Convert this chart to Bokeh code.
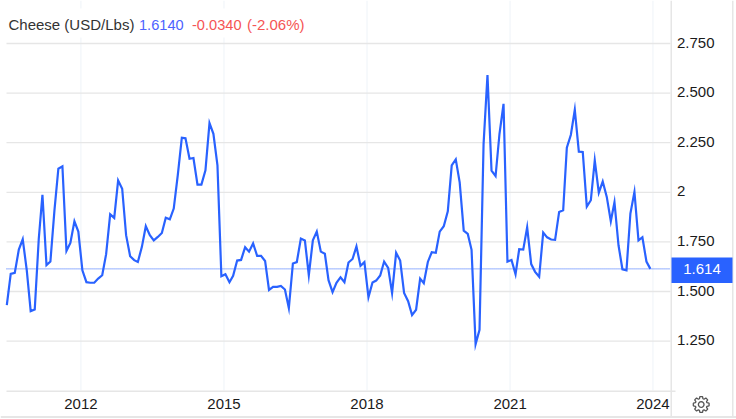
import math
import pandas as pd
from bokeh.plotting import figure
from bokeh.embed import file_html
from bokeh.resources import INLINE
from bokeh.models import (Range1d, FixedTicker, LinearAxis, DatetimeAxis, DatetimeTickFormatter,
                          Label, BoxAnnotation, PolyAnnotation, ColumnDataSource)

TITLE_NAME = "Cheese (USD/Lbs)"
TITLE_PRICE = "1.6140"
TITLE_CHANGE = "-0.0340"
TITLE_PCT = "(-2.06%)"
LAST = 1.614
LAST_LABEL = "1.614"

values_2010_2014 = [
    1.431, 1.589, 1.594, 1.711, 1.763, 1.607, 1.401, 1.409, 1.767, 1.987,
    1.633, 1.651, 1.909, 2.119, 2.131, 1.705, 1.745, 1.854, 1.802, 1.607,
    1.547, 1.544, 1.544, 1.565, 1.582, 1.688, 1.889, 1.871, 2.060, 2.018,
    1.784, 1.678, 1.658, 1.649, 1.725, 1.829, 1.784, 1.758, 1.775, 1.795,
    1.872, 1.864, 1.918, 2.086, 2.275, 2.272, 2.169, 2.173, 2.039, 2.039,
    2.111, 2.349, 2.295, 2.136,
]
values_2015_2019 = [
    1.577, 1.587, 1.547, 1.579, 1.656, 1.659, 1.723, 1.701, 1.742, 1.680,
    1.680, 1.654, 1.508, 1.523, 1.523, 1.528, 1.510, 1.416, 1.641, 1.648,
    1.767, 1.757, 1.582, 1.758, 1.802, 1.701, 1.690, 1.557, 1.497, 1.544,
    1.572, 1.547, 1.646, 1.664, 1.727, 1.629, 1.648, 1.471, 1.545, 1.555,
    1.581, 1.651, 1.619, 1.492, 1.695, 1.656, 1.493, 1.451, 1.381, 1.408,
    1.565, 1.542, 1.649, 1.698, 1.695, 1.802, 1.829, 1.904,
]
values_2020_2023 = [
    2.136, 2.166, 2.050, 1.807, 1.790, 1.710, 1.235, 1.307, 2.243, 2.591,
    2.109, 2.082, 2.295, 2.446, 1.651, 1.659, 1.587, 1.713, 1.711, 1.824,
    1.638, 1.599, 1.574, 1.797, 1.773, 1.762, 1.760, 1.901, 1.909, 2.225,
    2.290, 2.416, 2.205, 2.203, 1.928, 1.960, 2.161, 1.998, 2.054, 1.977,
    1.854, 1.950, 1.733, 1.612, 1.607, 1.893, 2.002, 1.758, 1.773, 1.651,
    1.614,
]
values = values_2010_2014 + values_2015_2019 + values_2020_2023
dates = pd.date_range("2010-06-01", periods=len(values), freq="MS") + pd.Timedelta(days=11)

y_ticks = [1.25, 1.5, 1.75, 2, 2.25, 2.5, 2.75]
y_labels = ["1.250", "1.500", "1.750", "2", "2.250", "2.500", "2.750"]
x_years = [2012, 2015, 2018, 2021, 2024]

BLUE = "#2962ff"
GRID_H = "#e6e6e6"
GRID_V = "#eef3f8"
FONT = "Liberation Sans"
TICK_TEXT = "#1a1a1a"


def ms(year_float):
    y = int(year_float)
    a = pd.Timestamp(year=y, month=1, day=1)
    b = pd.Timestamp(year=y + 1, month=1, day=1)
    return (a + (b - a) * (year_float - y)).timestamp() * 1000


PX_YEAR = 47.67


def xdata(px):
    return ms(2012 + (px - 80.5) / PX_YEAR)


def ydata(py):
    return 2.75 - (py - 43.0) / 198.4


p = figure(width=736, height=419, output_backend="svg", toolbar_location=None,
           x_axis_type=None, y_axis_type=None,
           x_range=Range1d(xdata(0), xdata(736)),
           y_range=Range1d(ydata(419), ydata(0)),
           min_border_left=0, min_border_right=0, min_border_top=0, min_border_bottom=0,
           background_fill_color="white", border_fill_color="white")
p.outline_line_color = None
p.xgrid.visible = False
p.ygrid.visible = False

year_ticks = [ms(y) for y in x_years]
xaxis = DatetimeAxis(ticker=FixedTicker(ticks=year_ticks), fixed_location=ydata(390.5),
                     formatter=DatetimeTickFormatter(years="%Y", months="%Y", days="%Y", hours="%Y"))
xaxis.axis_line_color = None
xaxis.major_tick_line_color = None
xaxis.minor_tick_line_color = None
xaxis.major_tick_out = 0
xaxis.major_label_standoff = 8
xaxis.major_label_text_font = FONT
xaxis.major_label_text_font_size = "15px"
xaxis.major_label_text_color = TICK_TEXT
p.add_layout(xaxis, "below")

# the reference's value labels sit 1px above their gridlines
label_ticks = [round(v + 1 / 198.4, 4) for v in y_ticks]
yaxis = LinearAxis(ticker=FixedTicker(ticks=label_ticks), fixed_location=xdata(670.5),
                   major_label_overrides=dict(zip(label_ticks, y_labels)))
yaxis.axis_line_color = None
yaxis.major_tick_line_color = None
yaxis.minor_tick_line_color = None
yaxis.major_tick_out = 0
yaxis.major_label_standoff = 6
yaxis.major_label_text_font = FONT
yaxis.major_label_text_font_size = "15px"
yaxis.major_label_text_color = TICK_TEXT
p.add_layout(yaxis, "right")


def rect(l, r, t, b, color, level="underlay"):
    p.add_layout(BoxAnnotation(left=l, right=r, top=t, bottom=b,
                               left_units="canvas", right_units="canvas",
                               top_units="canvas", bottom_units="canvas",
                               fill_color=color, fill_alpha=1, line_color=None, level=level))


p.segment(x0=year_ticks, x1=year_ticks, y0=ydata(390), y1=ydata(0),
          line_color=GRID_V, line_width=1, level="underlay")
p.segment(x0=xdata(6), x1=xdata(670), y0=y_ticks, y1=y_ticks,
          line_color=GRID_H, line_width=1.3, level="underlay")

rect(6, 305, 8, 37, "white")
rect(6, 675, 390, 391.5, GRID_H)
rect(670, 671.5, 0, 416, GRID_H)
rect(731.5, 733, 0, 416, GRID_H)
rect(0, 736, 415.5, 417.5, GRID_H)

p.segment(x0=xdata(6), x1=xdata(670), y0=LAST, y1=LAST, line_color=BLUE, line_width=1,
          line_dash="1 1", line_alpha=1)

src = ColumnDataSource(dict(date=dates, value=values))
p.line("date", "value", source=src, line_color=BLUE, line_width=2.2, line_join="miter")

rect(671, 732, 257, 282.5, BLUE, level="overlay")


def title(x, text, color, size="14.6px"):
    p.add_layout(Label(x=x, y=24, x_units="canvas", y_units="canvas", text=text,
                       text_color=color, text_font=FONT, text_font_size=size,
                       text_baseline="middle", text_align="left", level="overlay"))


title(8, TITLE_NAME, "#333333", "15px")
title(138.5, TITLE_PRICE, "#4d62ff")
title(191.5, TITLE_CHANGE, "#f55555")
title(246.5, TITLE_PCT, "#f55555", "15px")

p.add_layout(Label(x=701.5, y=LAST, x_units="canvas", y_units="data", text=LAST_LABEL,
                   text_color="white", text_font=FONT, text_font_size="15px",
                   text_baseline="middle", text_align="center", level="overlay"))

# settings gear, outline only
cx, cy, teeth = 700.7, 404, 8
gx, gy = [], []
for i in range(teeth):
    base = 2 * math.pi * i / teeth
    for da, rad in ((-0.30, 6.0), (-0.17, 8.0), (0.17, 8.0), (0.30, 6.0)):
        gx.append(cx + rad * math.cos(base + da))
        gy.append(cy + rad * math.sin(base + da))
p.add_layout(PolyAnnotation(xs=gx, ys=gy, xs_units="canvas", ys_units="canvas",
                            fill_alpha=0, line_color="#555555", line_alpha=1, line_width=1.3))
hx = [cx + 2.8 * math.cos(2 * math.pi * i / 16) for i in range(16)]
hy = [cy + 2.8 * math.sin(2 * math.pi * i / 16) for i in range(16)]
p.add_layout(PolyAnnotation(xs=hx, ys=hy, xs_units="canvas", ys_units="canvas",
                            fill_alpha=0, line_color="#555555", line_alpha=1, line_width=1.3))

open("out.html", "w").write(file_html(p, INLINE))
